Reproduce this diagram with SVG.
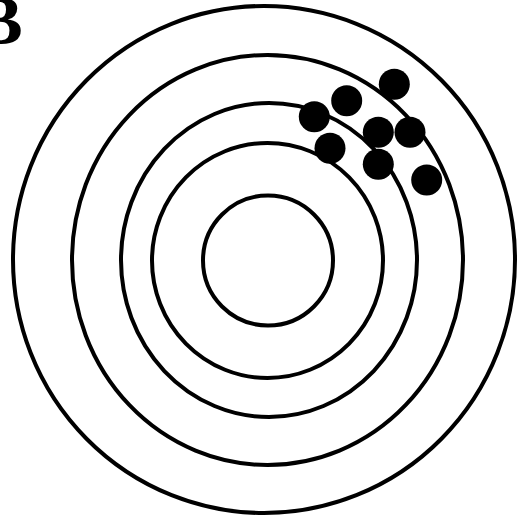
<svg xmlns="http://www.w3.org/2000/svg" width="518" height="517" viewBox="0 0 518 517">
<style>
.ring{fill:none;stroke:#000;stroke-width:4}
.dot{fill:#000}
.lbl{font-family:"Liberation Serif","Times New Roman",serif;font-weight:bold;font-size:70px;fill:#000}
</style>
<rect width="518" height="517" fill="#fff"/>
<text class="lbl" x="-24" y="44">B</text>
<g id="rings">
<ellipse id="ring1" class="ring" cx="264" cy="259.5" rx="251" ry="253.5"/>
<ellipse id="ring2" class="ring" cx="267.5" cy="260" rx="195.5" ry="205"/>
<ellipse id="ring3" class="ring" cx="269" cy="260" rx="148" ry="157"/>
<ellipse id="ring4" class="ring" cx="267.5" cy="260.5" rx="115.5" ry="117.5"/>
<ellipse id="ring5" class="ring" cx="268" cy="260.5" rx="65" ry="65"/>
</g>
<g id="dots">
<circle class="dot" cx="394.3" cy="84.3" r="15.5"/>
<circle class="dot" cx="346.7" cy="100.7" r="15.5"/>
<circle class="dot" cx="314.3" cy="116.7" r="15.5"/>
<circle class="dot" cx="378.3" cy="132.3" r="15.5"/>
<circle class="dot" cx="410" cy="132.3" r="15.5"/>
<circle class="dot" cx="330" cy="148.3" r="15.5"/>
<circle class="dot" cx="378.3" cy="164.3" r="15.5"/>
<circle class="dot" cx="426.7" cy="180" r="15.5"/>
</g>
</svg>
